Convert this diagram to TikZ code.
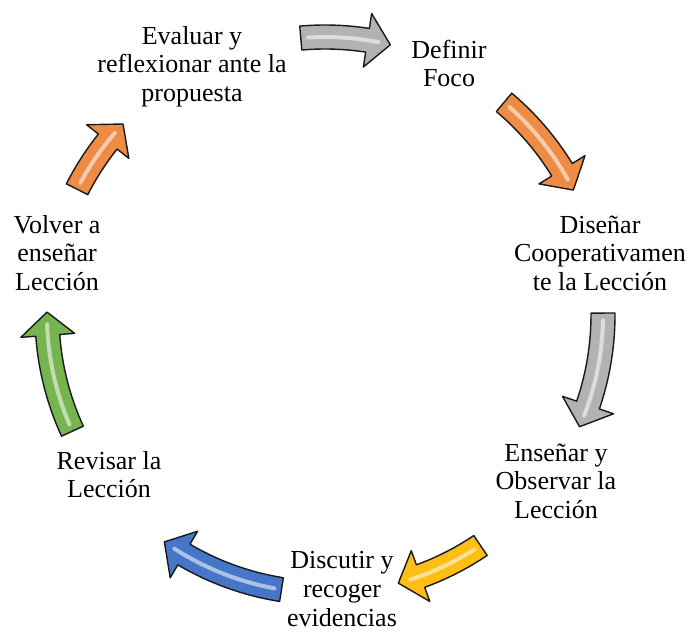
\documentclass[tikz,border=0pt]{standalone}
\usepackage{fontspec}
\setmainfont{Liberation Serif}
\definecolor{agray}{RGB}{178,178,178}
\definecolor{aorange}{RGB}{238,140,70}
\definecolor{ayellow}{RGB}{255,190,20}
\definecolor{ablue}{RGB}{70,118,200}
\definecolor{agreen}{RGB}{118,180,80}
\tikzset{
  lbl/.style={align=center, font=\fontsize{26}{28.5}\selectfont, inner sep=0pt},
  arrowbox/.style={draw=black!90, line width=1.4pt, line join=round},
  hilite/.style={draw=white, line width=4pt, opacity=0.55, line cap=round}
}
\newcommand{\cycArrow}[3]{%
  \pgfmathsetmacro{\hb}{#2+4.8}%
  \pgfmathsetmacro{\hs}{#1-1.5}%
  \pgfmathsetmacro{\he}{#2+2.5}%
  \filldraw[arrowbox, fill=#3]
    ([shift={(C)}]#1:290pt) arc[start angle=#1, end angle=\hb, radius=290pt]
    -- ([shift={(C)}]\hb:305pt) -- ([shift={(C)}]#2:278pt)
    -- ([shift={(C)}]\hb:251pt) -- ([shift={(C)}]\hb:266pt)
    arc[start angle=\hb, end angle=#1, radius=266pt] -- cycle;
  \draw[hilite] ([shift={(C)}]\hs:278pt) arc[start angle=\hs, end angle=\he, radius=278pt];
}
\begin{document}
\begin{tikzpicture}[x=1pt,y=1pt]
\useasboundingbox (0,0) rectangle (689,-632);
\coordinate (C) at (325,-315);
% block arrows of the cycle
\cycArrow{95}{76.4}{agray}
\cycArrow{49.9}{26.7}{aorange}
\cycArrow{0.4}{-23.7}{agray}
\cycArrow{-56}{-74.7}{ayellow}
\cycArrow{-99}{-125.3}{ablue}
\cycArrow{204.7}{179.4}{agreen}
\cycArrow{153.1}{136.6}{aorange}
% texts
\node[lbl] (evaluar) at (192,-67) {\strut Evaluar y\\\strut reflexionar ante la\\\strut propuesta};
\node[lbl] (definir) at (449,-67) {\strut Definir\\\strut Foco};
\node[lbl] (disenar) at (600,-256) {\strut Diseñar\\\strut Cooperativamen\\\strut te la Lección};
\node[lbl] (ensenar) at (556,-484) {\strut Enseñar y\\\strut Observar la\\\strut Lección};
\node[lbl] (discutir) at (342,-588) {\strut Discutir y\\\strut recoger\\\rule{0pt}{20pt}evidencias};
\node[lbl] (revisar) at (109,-478) {\strut Revisar la\\\strut Lección};
\node[lbl] (volver) at (57,-256) {\strut Volver a\\\strut enseñar\\\strut Lección};
\end{tikzpicture}
\end{document}
